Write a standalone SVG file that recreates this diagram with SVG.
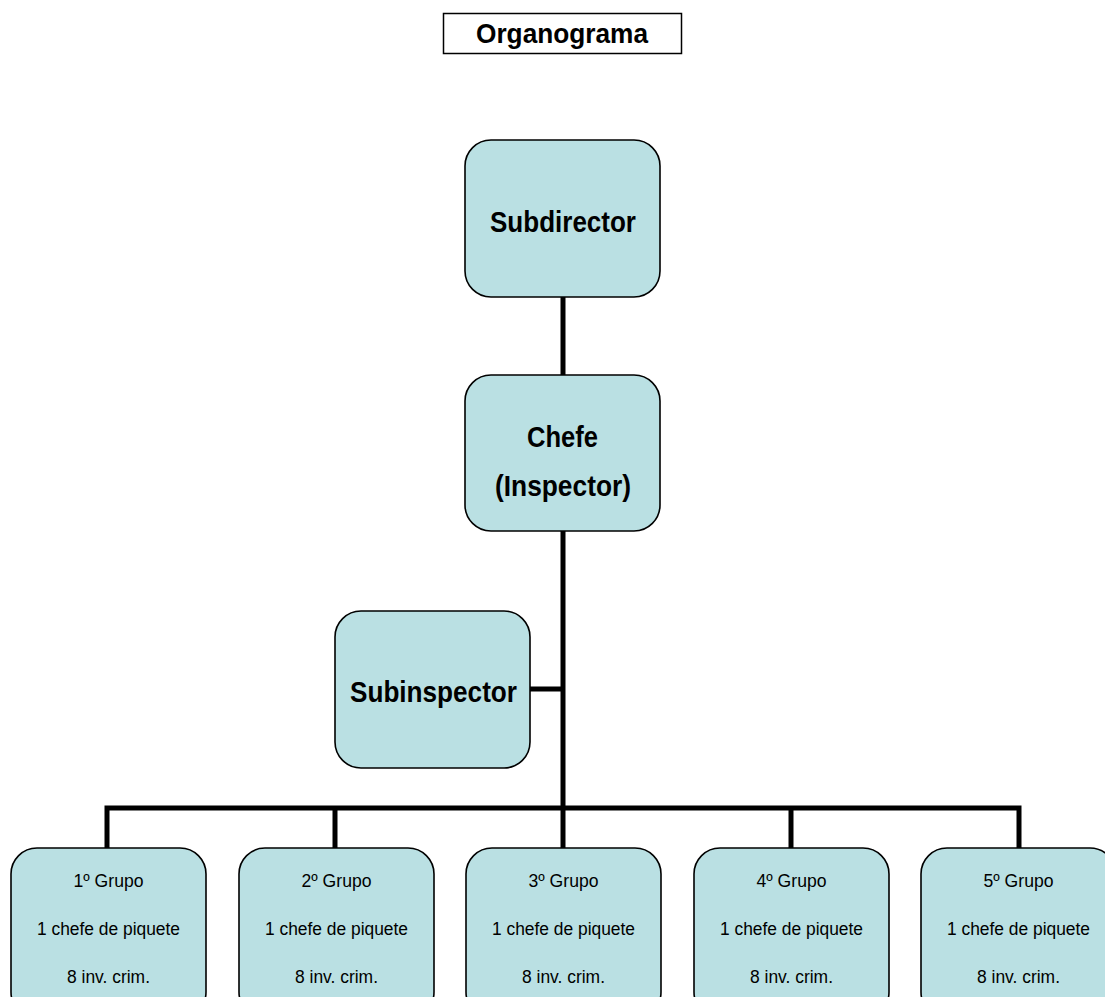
<svg xmlns="http://www.w3.org/2000/svg" width="1105" height="997" viewBox="0 0 1105 997">
<style>
.box{fill:#bae0e3;stroke:#000;stroke-width:1.6}
.big{font-family:"Liberation Sans",Arial,sans-serif;font-weight:bold;font-size:29px;text-anchor:middle;fill:#000}
.sm{font-family:"Liberation Sans",Arial,sans-serif;font-size:18px;text-anchor:middle;fill:#000}
.con{fill:none;stroke:#000;stroke-width:5}
</style>
<rect width="1105" height="997" fill="#fff"/>
<g id="title">
<rect x="443.5" y="13.5" width="238" height="40" fill="#fff" stroke="#000" stroke-width="1.5"/>
<text x="562" y="43" class="big" style="font-size:27px" textLength="172" lengthAdjust="spacingAndGlyphs">Organograma</text>
</g>
<g id="connectors">
<line class="con" x1="563" y1="297" x2="563" y2="376"/>
<line class="con" x1="563" y1="531" x2="563" y2="808"/>
<line class="con" x1="530" y1="689" x2="563" y2="689"/>
<polyline class="con" points="107,849 107,808 1019,808 1019,849"/>
<line class="con" x1="335" y1="808" x2="335" y2="849"/>
<line class="con" x1="563" y1="808" x2="563" y2="849"/>
<line class="con" x1="791" y1="808" x2="791" y2="849"/>
</g>
<g id="subdirector">
<rect class="box" x="465" y="140" width="195" height="157" rx="26"/>
<text class="big" x="563" y="232" textLength="146" lengthAdjust="spacingAndGlyphs">Subdirector</text>
</g>
<g id="chefe">
<rect class="box" x="465" y="375" width="195" height="156" rx="26"/>
<text class="big" x="562.5" y="447" textLength="71" lengthAdjust="spacingAndGlyphs">Chefe</text>
<text class="big" x="563" y="496" textLength="136" lengthAdjust="spacingAndGlyphs">(Inspector)</text>
</g>
<g id="subinspector">
<rect class="box" x="335" y="611" width="195" height="157" rx="26"/>
<text class="big" x="433.5" y="702" textLength="167" lengthAdjust="spacingAndGlyphs">Subinspector</text>
</g>
<g id="grupo1">
<rect class="box" x="11" y="848" width="195" height="170" rx="26"/>
<text class="sm" x="108.5" y="887" textLength="70" lengthAdjust="spacingAndGlyphs">1º Grupo</text>
<text class="sm" x="108.5" y="935" textLength="143" lengthAdjust="spacingAndGlyphs">1 chefe de piquete</text>
<text class="sm" x="108.5" y="983" textLength="83" lengthAdjust="spacingAndGlyphs">8 inv. crim.</text>
</g>
<g id="grupo2">
<rect class="box" x="239" y="848" width="195" height="170" rx="26"/>
<text class="sm" x="336.5" y="887" textLength="70" lengthAdjust="spacingAndGlyphs">2º Grupo</text>
<text class="sm" x="336.5" y="935" textLength="143" lengthAdjust="spacingAndGlyphs">1 chefe de piquete</text>
<text class="sm" x="336.5" y="983" textLength="83" lengthAdjust="spacingAndGlyphs">8 inv. crim.</text>
</g>
<g id="grupo3">
<rect class="box" x="466" y="848" width="195" height="170" rx="26"/>
<text class="sm" x="563.5" y="887" textLength="70" lengthAdjust="spacingAndGlyphs">3º Grupo</text>
<text class="sm" x="563.5" y="935" textLength="143" lengthAdjust="spacingAndGlyphs">1 chefe de piquete</text>
<text class="sm" x="563.5" y="983" textLength="83" lengthAdjust="spacingAndGlyphs">8 inv. crim.</text>
</g>
<g id="grupo4">
<rect class="box" x="694" y="848" width="195" height="170" rx="26"/>
<text class="sm" x="791.5" y="887" textLength="70" lengthAdjust="spacingAndGlyphs">4º Grupo</text>
<text class="sm" x="791.5" y="935" textLength="143" lengthAdjust="spacingAndGlyphs">1 chefe de piquete</text>
<text class="sm" x="791.5" y="983" textLength="83" lengthAdjust="spacingAndGlyphs">8 inv. crim.</text>
</g>
<g id="grupo5">
<rect class="box" x="921" y="848" width="195" height="170" rx="26"/>
<text class="sm" x="1018.5" y="887" textLength="70" lengthAdjust="spacingAndGlyphs">5º Grupo</text>
<text class="sm" x="1018.5" y="935" textLength="143" lengthAdjust="spacingAndGlyphs">1 chefe de piquete</text>
<text class="sm" x="1018.5" y="983" textLength="83" lengthAdjust="spacingAndGlyphs">8 inv. crim.</text>
</g>
</svg>
